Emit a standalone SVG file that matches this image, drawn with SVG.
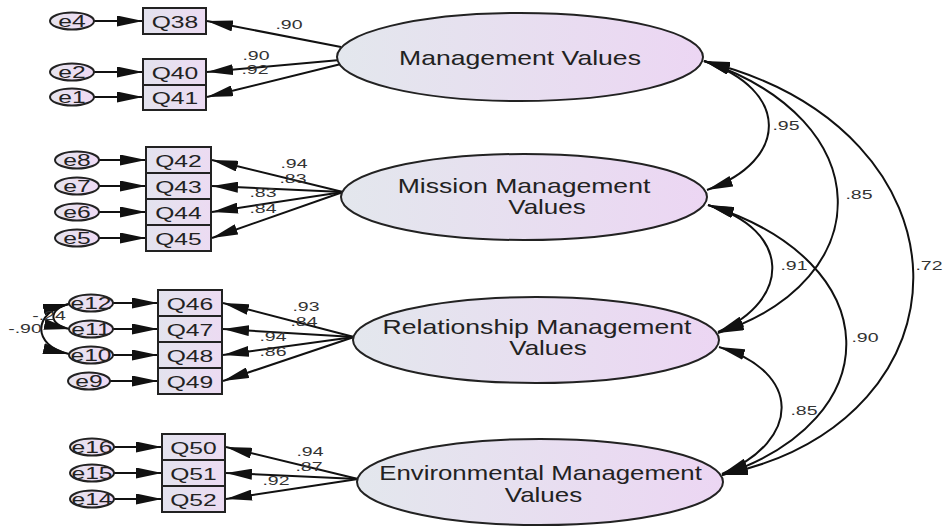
<svg xmlns="http://www.w3.org/2000/svg" width="945" height="526" viewBox="0 0 945 526">
  <defs>
    <linearGradient id="latFill" x1="0" y1="0" x2="1" y2="0">
      <stop offset="0" stop-color="#e3e7ed"/>
      <stop offset="1" stop-color="#ecd6f3"/>
    </linearGradient>
    <linearGradient id="boxFill" x1="0" y1="0" x2="1" y2="0">
      <stop offset="0" stop-color="#e3e3ee"/>
      <stop offset="1" stop-color="#ecdbf2"/>
    </linearGradient>
    <linearGradient id="errFill" x1="0" y1="0" x2="1" y2="0">
      <stop offset="0" stop-color="#e6e4ee"/>
      <stop offset="1" stop-color="#efdaf4"/>
    </linearGradient>
    <marker id="ah" markerUnits="userSpaceOnUse" markerWidth="26" markerHeight="11" viewBox="0 0 26 11" refX="26" refY="5.5" orient="auto-start-reverse">
      <path d="M0,0 L26,5.5 L0,11 z" fill="#111"/>
    </marker>
    <style>
      .box { fill: url(#boxFill); stroke: #222; stroke-width: 2; }
      .err { fill: url(#errFill); stroke: #222; stroke-width: 2; }
      .lat { fill: url(#latFill); stroke: #222; stroke-width: 2; }
      text { font-family: "Liberation Sans", Arial, sans-serif; fill: #222; text-anchor: middle; }
      .lbl { font-size: 17px; }
      .num { font-size: 13px; fill: #333; }
      .big { font-size: 20px; }
      .path { fill: none; stroke: #111; stroke-width: 2; marker-end: url(#ah); }
      .cov { fill: none; stroke: #111; stroke-width: 2; marker-start: url(#ah); marker-end: url(#ah); }
    </style>
  </defs>

  <!-- regression and covariance paths -->
  <g id="connectors">
    <!-- error terms to indicators -->
    <line class="path" x1="94" y1="21" x2="143" y2="21"/>
    <line class="path" x1="94" y1="72" x2="143" y2="72"/>
    <line class="path" x1="94" y1="97" x2="143" y2="97"/>
    <line class="path" x1="99" y1="160" x2="146" y2="160"/>
    <line class="path" x1="99" y1="186" x2="146" y2="186"/>
    <line class="path" x1="99" y1="212" x2="146" y2="212"/>
    <line class="path" x1="99" y1="238" x2="146" y2="238"/>
    <line class="path" x1="112" y1="303" x2="158" y2="303"/>
    <line class="path" x1="112" y1="329" x2="158" y2="329"/>
    <line class="path" x1="112" y1="355" x2="158" y2="355"/>
    <line class="path" x1="110" y1="381" x2="158" y2="381"/>
    <line class="path" x1="114" y1="447" x2="162" y2="447"/>
    <line class="path" x1="114" y1="473" x2="162" y2="473"/>
    <line class="path" x1="114" y1="499" x2="162" y2="499"/>

    <!-- factor loadings -->
    <line class="path" x1="341" y1="47" x2="207" y2="21"/>
    <line class="path" x1="340" y1="60" x2="207" y2="72"/>
    <line class="path" x1="341" y1="64" x2="207" y2="97"/>

    <line class="path" x1="343" y1="192" x2="212" y2="160"/>
    <line class="path" x1="343" y1="192" x2="212" y2="186"/>
    <line class="path" x1="343" y1="192" x2="212" y2="212"/>
    <line class="path" x1="343" y1="192" x2="212" y2="238"/>

    <line class="path" x1="354" y1="337" x2="223" y2="303"/>
    <line class="path" x1="354" y1="337" x2="223" y2="329"/>
    <line class="path" x1="354" y1="337" x2="223" y2="355"/>
    <line class="path" x1="354" y1="337" x2="223" y2="381"/>

    <line class="path" x1="358" y1="479" x2="226" y2="447"/>
    <line class="path" x1="358" y1="479" x2="226" y2="473"/>
    <line class="path" x1="358" y1="479" x2="226" y2="499"/>

    <!-- error covariances -->
    <path class="cov" d="M69,304 C32,312 32,346 69,354"/>
    <path class="cov" d="M69,304 C48,309 48,325 70,329"/>

    <!-- factor correlations -->
    <path class="cov" d="M704,61 C790,90 790,160 707,190"/>
    <path class="cov" d="M704,61 C880,120 880,280 718,333"/>
    <path class="cov" d="M704,61 C980,130 980,420 722,475"/>
    <path class="cov" d="M708,205 C792,230 792,300 718,332"/>
    <path class="cov" d="M708,205 C890,262 890,420 722,475"/>
    <path class="cov" d="M719,347 C802,372 802,440 722,474"/>
  </g>

  <!-- Management Values -->
  <g id="mv">
    <ellipse class="lat" cx="520" cy="57" rx="183" ry="44"/>
    <text class="big" transform="translate(520,65) scale(1.33,1)">Management Values</text>
  </g>
  <g id="q38"><rect class="box" x="143" y="8" width="63" height="26"/><text class="lbl" transform="translate(175,27.5) scale(1.45,1)">Q38</text></g>
  <g id="q40"><rect class="box" x="143" y="59" width="63" height="26"/><text class="lbl" transform="translate(175,78.5) scale(1.45,1)">Q40</text></g>
  <g id="q41"><rect class="box" x="143" y="85" width="63" height="25"/><text class="lbl" transform="translate(175,104) scale(1.45,1)">Q41</text></g>
  <g id="e4"><ellipse class="err" cx="72" cy="21" rx="22" ry="8.5"/><text class="lbl" transform="translate(72,27) scale(1.45,1)">e4</text></g>
  <g id="e2"><ellipse class="err" cx="72" cy="72" rx="22" ry="8.5"/><text class="lbl" transform="translate(72,78) scale(1.45,1)">e2</text></g>
  <g id="e1"><ellipse class="err" cx="72" cy="97" rx="22" ry="8.5"/><text class="lbl" transform="translate(72,103) scale(1.45,1)">e1</text></g>

  <!-- Mission Management Values -->
  <g id="mmv">
    <ellipse class="lat" cx="524" cy="197" rx="183" ry="43"/>
    <text class="big" transform="translate(524,193) scale(1.33,1)">Mission Management</text>
    <text class="big" transform="translate(547,214) scale(1.3,1)">Values</text>
  </g>
  <g id="q42"><rect class="box" x="146" y="147" width="65" height="26"/><text class="lbl" transform="translate(178.5,166.5) scale(1.45,1)">Q42</text></g>
  <g id="q43"><rect class="box" x="146" y="173" width="65" height="26"/><text class="lbl" transform="translate(178.5,192.5) scale(1.45,1)">Q43</text></g>
  <g id="q44"><rect class="box" x="146" y="199" width="65" height="26"/><text class="lbl" transform="translate(178.5,218.5) scale(1.45,1)">Q44</text></g>
  <g id="q45"><rect class="box" x="146" y="225" width="65" height="26"/><text class="lbl" transform="translate(178.5,244.5) scale(1.45,1)">Q45</text></g>
  <g id="e8"><ellipse class="err" cx="77" cy="160" rx="22" ry="8.5"/><text class="lbl" transform="translate(77,166) scale(1.45,1)">e8</text></g>
  <g id="e7"><ellipse class="err" cx="77" cy="186" rx="22" ry="8.5"/><text class="lbl" transform="translate(77,192) scale(1.45,1)">e7</text></g>
  <g id="e6"><ellipse class="err" cx="77" cy="212" rx="22" ry="8.5"/><text class="lbl" transform="translate(77,218) scale(1.45,1)">e6</text></g>
  <g id="e5"><ellipse class="err" cx="77" cy="238" rx="22" ry="8.5"/><text class="lbl" transform="translate(77,244) scale(1.45,1)">e5</text></g>

  <!-- Relationship Management Values -->
  <g id="rmv">
    <ellipse class="lat" cx="536" cy="340" rx="183" ry="43"/>
    <text class="big" transform="translate(537,334) scale(1.33,1)">Relationship Management</text>
    <text class="big" transform="translate(548,355) scale(1.3,1)">Values</text>
  </g>
  <g id="q46"><rect class="box" x="158" y="290" width="64" height="26"/><text class="lbl" transform="translate(190,309.5) scale(1.45,1)">Q46</text></g>
  <g id="q47"><rect class="box" x="158" y="316" width="64" height="26"/><text class="lbl" transform="translate(190,335.5) scale(1.45,1)">Q47</text></g>
  <g id="q48"><rect class="box" x="158" y="342" width="64" height="26"/><text class="lbl" transform="translate(190,361.5) scale(1.45,1)">Q48</text></g>
  <g id="q49"><rect class="box" x="158" y="368" width="64" height="26"/><text class="lbl" transform="translate(190,387.5) scale(1.45,1)">Q49</text></g>
  <g id="e12"><ellipse class="err" cx="91" cy="303" rx="22" ry="8.5"/><text class="lbl" transform="translate(91,309) scale(1.45,1)">e12</text></g>
  <g id="e11"><ellipse class="err" cx="91" cy="329" rx="22" ry="8.5"/><text class="lbl" transform="translate(91,335) scale(1.45,1)">e11</text></g>
  <g id="e10"><ellipse class="err" cx="91" cy="355" rx="22" ry="8.5"/><text class="lbl" transform="translate(91,361) scale(1.45,1)">e10</text></g>
  <g id="e9"><ellipse class="err" cx="89" cy="381" rx="21" ry="8.5"/><text class="lbl" transform="translate(89,387) scale(1.45,1)">e9</text></g>

  <!-- Environmental Management Values -->
  <g id="emv">
    <ellipse class="lat" cx="540" cy="482" rx="183" ry="43"/>
    <text class="big" transform="translate(540.5,480) scale(1.29,1)">Environmental Management</text>
    <text class="big" transform="translate(543.5,502) scale(1.3,1)">Values</text>
  </g>
  <g id="q50"><rect class="box" x="162" y="434" width="63" height="26"/><text class="lbl" transform="translate(193.5,453.5) scale(1.45,1)">Q50</text></g>
  <g id="q51"><rect class="box" x="162" y="460" width="63" height="26"/><text class="lbl" transform="translate(193.5,479.5) scale(1.45,1)">Q51</text></g>
  <g id="q52"><rect class="box" x="162" y="486" width="63" height="26"/><text class="lbl" transform="translate(193.5,505.5) scale(1.45,1)">Q52</text></g>
  <g id="e16"><ellipse class="err" cx="92" cy="447" rx="22" ry="8.5"/><text class="lbl" transform="translate(92,453) scale(1.45,1)">e16</text></g>
  <g id="e15"><ellipse class="err" cx="92" cy="473" rx="22" ry="8.5"/><text class="lbl" transform="translate(92,479) scale(1.45,1)">e15</text></g>
  <g id="e14"><ellipse class="err" cx="92" cy="499" rx="22" ry="8.5"/><text class="lbl" transform="translate(92,505) scale(1.45,1)">e14</text></g>

  <!-- estimates -->
  <g id="estimates">
    <text class="num" transform="translate(289,29) scale(1.5,1)">.90</text>
    <text class="num" transform="translate(256,60) scale(1.5,1)">.90</text>
    <text class="num" transform="translate(255,74) scale(1.5,1)">.92</text>

    <text class="num" transform="translate(294,168) scale(1.5,1)">.94</text>
    <text class="num" transform="translate(293,183) scale(1.5,1)">.83</text>
    <text class="num" transform="translate(263,197) scale(1.5,1)">.83</text>
    <text class="num" transform="translate(263,213) scale(1.5,1)">.84</text>

    <text class="num" transform="translate(306,311) scale(1.5,1)">.93</text>
    <text class="num" transform="translate(304,326) scale(1.5,1)">.84</text>
    <text class="num" transform="translate(273,341) scale(1.5,1)">.94</text>
    <text class="num" transform="translate(273,356) scale(1.5,1)">.86</text>

    <text class="num" transform="translate(310,456) scale(1.5,1)">.94</text>
    <text class="num" transform="translate(309,471) scale(1.5,1)">.87</text>
    <text class="num" transform="translate(276,485) scale(1.5,1)">.92</text>

    <text class="num" transform="translate(49,320) scale(1.5,1)">-.24</text>
    <text class="num" transform="translate(25,333) scale(1.5,1)">-.90</text>

    <text class="num" transform="translate(786,130) scale(1.5,1)">.95</text>
    <text class="num" transform="translate(859,199) scale(1.5,1)">.85</text>
    <text class="num" transform="translate(794,270) scale(1.5,1)">.91</text>
    <text class="num" transform="translate(929,270) scale(1.5,1)">.72</text>
    <text class="num" transform="translate(865,342) scale(1.5,1)">.90</text>
    <text class="num" transform="translate(804,415) scale(1.5,1)">.85</text>
  </g>
</svg>
